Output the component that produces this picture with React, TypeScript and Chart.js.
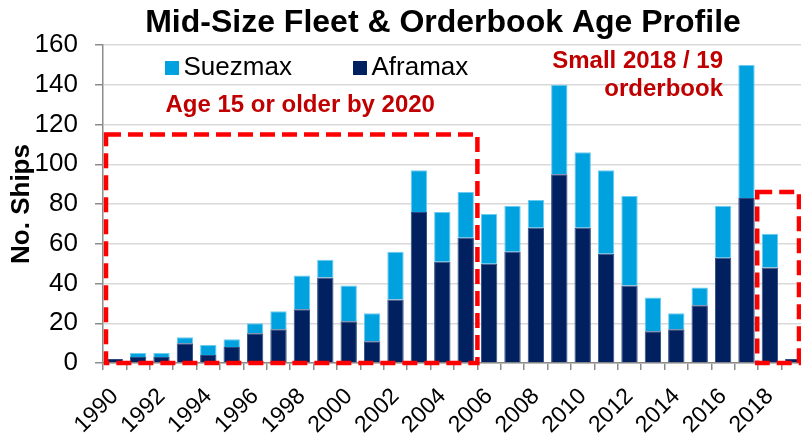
import React, { useEffect, useRef } from "react";
import { Chart, registerables } from "chart.js";

Chart.register(...registerables);

const years = [
  "1990", "1991", "1992", "1993", "1994", "1995", "1996", "1997", "1998", "1999",
  "2000", "2001", "2002", "2003", "2004", "2005", "2006", "2007", "2008", "2009",
  "2010", "2011", "2012", "2013", "2014", "2015", "2016", "2017", "2018", "2019",
];
const aframax = [2, 3, 3, 10, 4, 8, 15, 17, 27, 43, 21, 11, 32, 76, 51, 63, 50, 56, 68, 95, 68, 55, 39, 16, 17, 29, 53, 83, 48, 2];
const suezmax = [0, 2, 2, 3, 5, 4, 5, 9, 17, 9, 18, 14, 24, 21, 25, 23, 25, 23, 14, 45, 38, 42, 45, 17, 8, 9, 26, 67, 17, 0];

const seriesNames = ["Suezmax", "Aframax"];
const seriesColors = { Suezmax: "#00A1DF", Aframax: "#00205F" };
const seriesBorders = { Suezmax: "#6CCBF0", Aframax: "#2F4A80" };
const titleText = "Mid-Size Fleet & Orderbook Age Profile";
const yAxisTitle = "No. Ships";
const noteOld = "Age 15 or older by 2020";
const noteSmall = ["Small 2018 / 19", "orderbook"];
// boxes: [firstIndex, lastIndexExclusive, topValue]
const boxOld = [0, 16, 115];
const boxSmall = [28, 30, 86];

const FONT = '"Liberation Sans", Arial, sans-serif';

const overlayPlugin = {
  id: "overlay",
  afterDatasetsDraw(chart: any) {
    const { ctx, chartArea, scales } = chart;
    const x = scales.x;
    const y = scales.y;
    const half = (x.getPixelForValue(1) - x.getPixelForValue(0)) / 2;
    const edge = (i: number) => x.getPixelForValue(i) - half;
    ctx.save();
    ctx.strokeStyle = "#FF0000";
    ctx.lineWidth = 4.5;
    ctx.setLineDash([15, 7]);
    const drawBox = (b: number[], l: number, r: number) => {
      const x0 = edge(b[0]) + l;
      const x1 = edge(b[1]) + r;
      const y0 = y.getPixelForValue(b[2]);
      const y1 = y.getPixelForValue(0);
      ctx.beginPath();
      ctx.rect(x0, y0, x1 - x0, y1 - y0);
      ctx.stroke();
    };
    drawBox(boxOld, 3, 0);
    drawBox(boxSmall, -1, -6);
    ctx.setLineDash([]);

    // title
    ctx.fillStyle = "#000";
    ctx.font = `bold 32px ${FONT}`;
    ctx.textAlign = "center";
    ctx.textBaseline = "middle";
    ctx.fillText(titleText, chartArea.left + 340, 23);

    // notes
    ctx.fillStyle = "#C00000";
    ctx.font = `bold 24px ${FONT}`;
    ctx.textBaseline = "alphabetic";
    ctx.textAlign = "left";
    ctx.fillText(noteOld, chartArea.left + 62.5, 111.5);
    ctx.textAlign = "right";
    ctx.fillText(noteSmall[0], chartArea.left + 620, 68);
    ctx.fillText(noteSmall[1], chartArea.left + 620, 96);

    // legend
    ctx.textAlign = "left";
    ctx.font = `26px ${FONT}`;
    const legendX = [chartArea.left + 62, chartArea.left + 250];
    seriesNames.forEach((name, i) => {
      ctx.fillStyle = (seriesColors as any)[name];
      ctx.fillRect(legendX[i], 61, 14, 14);
      ctx.fillStyle = "#000";
      ctx.fillText(name, legendX[i] + 18.5, 75);
    });
    ctx.restore();
  },
};

export default function App() {
  const ref = useRef<HTMLCanvasElement | null>(null);
  useEffect(() => {
    if (!ref.current) return;
    const chart = new Chart(ref.current, {
      type: "bar",
      data: {
        labels: years,
        datasets: [
          {
            label: "Aframax",
            data: aframax,
            backgroundColor: seriesColors.Aframax,
            borderColor: seriesBorders.Aframax,
            borderWidth: 1,
            barPercentage: 0.7,
            categoryPercentage: 1,
          },
          {
            label: "Suezmax",
            data: suezmax,
            backgroundColor: seriesColors.Suezmax,
            borderColor: seriesBorders.Suezmax,
            borderWidth: 1,
            barPercentage: 0.7,
            categoryPercentage: 1,
          },
        ],
      },
      options: {
        responsive: false,
        animation: false,
        layout: { padding: { left: 0, right: 0, top: 45, bottom: 0 } },
        plugins: {
          legend: { display: false },
          tooltip: { enabled: false },
          title: { display: false },
        },
        scales: {
          x: {
            stacked: true,
            grid: {
              offset: true,
              drawOnChartArea: false,
              drawTicks: true,
              tickLength: 7,
              color: "#8C8C8C",
              lineWidth: 1.5,
            },
            border: { color: "#8C8C8C", width: 1.5 },
            ticks: {
              autoSkip: false,
              maxRotation: 45,
              minRotation: 45,
              color: "#000",
              padding: 13,
              font: { family: FONT, size: 23 },
              callback: (_v: any, i: number) => (i % 2 === 0 ? years[i] : ""),
            },
            afterFit: (s: any) => {
              s.height = 73;
              s.paddingLeft = 0;
              s.paddingRight = 0;
            },
          },
          y: {
            stacked: true,
            min: 0,
            max: 160,
            ticks: {
              stepSize: 20,
              color: "#000",
              padding: 17,
              font: { family: FONT, size: 26 },
            },
            grid: {
              color: "#D9D9D9",
              lineWidth: 1.5,
              tickLength: 8,
              tickColor: "#8C8C8C",
            },
            border: { color: "#8C8C8C", width: 1.5 },
            title: {
              display: true,
              text: yAxisTitle,
              color: "#000",
              font: { family: FONT, size: 26, weight: "bold" },
              padding: { top: 6, bottom: 0 },
            },
            afterFit: (s: any) => {
              s.width = 103;
              s.paddingTop = 0;
              s.paddingBottom = 0;
            },
          },
        },
      },
      plugins: [overlayPlugin],
    });
    return () => chart.destroy();
  }, []);
  return (
    <div style={{ position: "absolute", left: 0, top: 0, width: 801, height: 436, overflow: "hidden" }}>
      <canvas ref={ref} width={805} height={436} style={{ display: "block" }} />
    </div>
  );
}
